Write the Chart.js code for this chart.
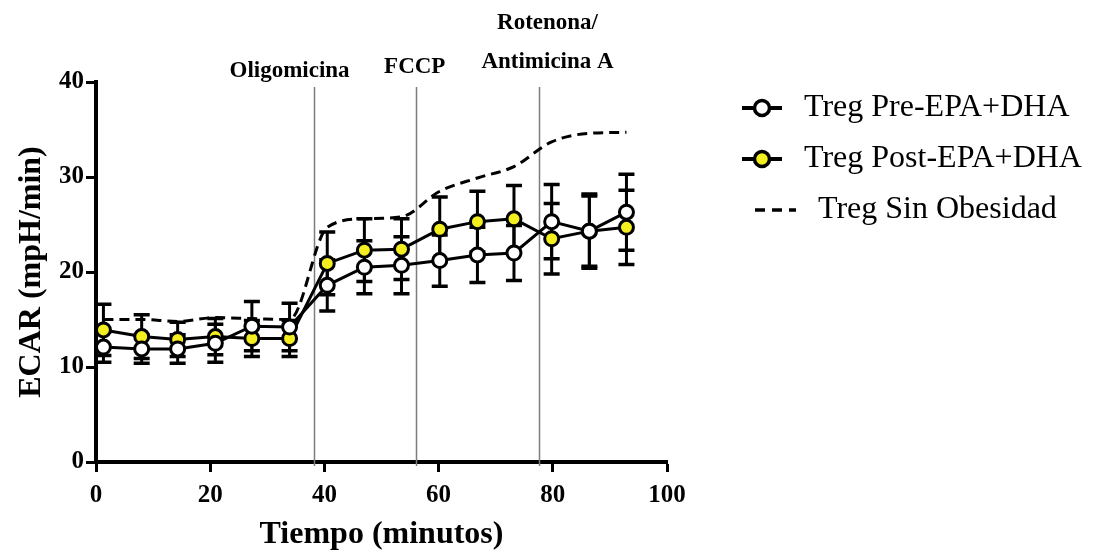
<!DOCTYPE html>
<html>
<head>
<meta charset="utf-8">
<script src="https://cdn.jsdelivr.net/npm/chart.js@4.4.1/dist/chart.umd.min.js"></script>
<style>
  html, body { margin: 0; padding: 0; background: #fff; }
</style>
</head>
<body>
<canvas id="Grafico" width="1094" height="555"></canvas>
<script>
// Datos (ECAR, mpH/min)
const tiempo = [1.3, 8.0, 14.3, 20.9, 27.3, 33.9, 40.5, 47.0, 53.5, 60.2, 66.8, 73.2, 79.8, 86.4, 92.9];
const pre = [12.1, 11.9, 11.9, 12.5, 14.3, 14.2, 18.6, 20.5, 20.7, 21.2, 21.8, 22.0, 25.3, 24.3, 26.3];
const preErr = [1.6, 1.5, 1.5, 2.0, 2.6, 2.5, 2.7, 2.8, 3.0, 2.7, 2.9, 2.9, 3.9, 3.9, 4.0];
const post = [13.9, 13.2, 12.9, 13.2, 13.0, 13.0, 20.9, 22.3, 22.4, 24.5, 25.3, 25.6, 23.5, 24.3, 24.7];
const postErr = [2.7, 2.3, 1.8, 1.9, 1.9, 1.9, 3.3, 3.3, 3.2, 3.4, 3.2, 3.5, 3.7, 3.7, 3.9];
const sinObesidad = [15.0, 15.0, 14.8, 15.2, 15.1, 15.0, 24.7, 25.6, 25.8, 28.5, 29.9, 31.1, 33.7, 34.6, 34.7];

const series = ['Treg Pre-EPA+DHA', 'Treg Post-EPA+DHA', 'Treg Sin Obesidad'];
const inyecciones = [38.1, 56.0, 77.5];
const inyeccionLabels = [['Oligomicina'], ['FCCP'], ['Rotenona/', 'Antimicina A']];
const xTicks = [0, 20, 40, 60, 80, 100];
const yTicks = [0, 10, 20, 30, 40];

const AMARILLO = '#f3ee1f';
const FUENTE = "'Liberation Serif', 'Times New Roman', serif";

function puntos(valores) {
  return valores.map((v, i) => ({ x: tiempo[i], y: v }));
}

// Barras de error (media +/- error) debajo de los puntos
const barrasError = {
  id: 'barrasError',
  beforeDatasetsDraw(chart) {
    const ctx = chart.ctx;
    const yScale = chart.scales.y;
    const errores = [preErr, postErr];
    ctx.save();
    ctx.strokeStyle = '#000';
    [0, 1].forEach(d => {
      const meta = chart.getDatasetMeta(d);
      const datos = chart.data.datasets[d].data;
      meta.data.forEach((p, i) => {
        const v = datos[i].y, e = errores[d][i];
        const yA = yScale.getPixelForValue(v + e);
        const yB = yScale.getPixelForValue(v - e);
        ctx.lineWidth = 3;
        ctx.beginPath();
        ctx.moveTo(p.x, yA);
        ctx.lineTo(p.x, yB);
        ctx.stroke();
        ctx.lineWidth = 3.5;
        ctx.beginPath();
        ctx.moveTo(p.x - 8, yA); ctx.lineTo(p.x + 8, yA);
        ctx.moveTo(p.x - 8, yB); ctx.lineTo(p.x + 8, yB);
        ctx.stroke();
      });
    });
    ctx.restore();
  }
};

// Lineas verticales de las inyecciones y sus nombres
const inyeccionesPlugin = {
  id: 'inyecciones',
  beforeDatasetsDraw(chart) {
    const ctx = chart.ctx;
    const xScale = chart.scales.x;
    ctx.save();
    ctx.strokeStyle = '#7d7d7d';
    ctx.lineWidth = 1.5;
    inyecciones.forEach(t => {
      const x = Math.round(xScale.getPixelForValue(t)) + 0.5;
      ctx.beginPath();
      ctx.moveTo(x, 87);
      ctx.lineTo(x, 466);
      ctx.stroke();
    });
    ctx.restore();
  },
  afterDraw(chart) {
    const ctx = chart.ctx;
    const xScale = chart.scales.x;
    const desplaz = [-24, -1, 9];
    ctx.save();
    ctx.fillStyle = '#000';
    ctx.font = 'bold 23px ' + FUENTE;
    ctx.textAlign = 'center';
    ctx.textBaseline = 'middle';
    inyeccionLabels.forEach((lineas, k) => {
      const x = xScale.getPixelForValue(inyecciones[k]) + desplaz[k];
      const yBase = lineas.length > 1 ? 62 : (k === 0 ? 71 : 67);
      lineas.slice().reverse().forEach((txt, j) => {
        ctx.fillText(txt, x, yBase - j * 39);
      });
    });
    ctx.restore();
  }
};

// Leyenda a la derecha
const leyenda = {
  id: 'leyenda',
  afterDraw(chart) {
    const ctx = chart.ctx;
    const filas = [108, 159, 210];
    ctx.save();
    ctx.strokeStyle = '#000';
    ctx.fillStyle = '#000';
    filas.forEach((y, k) => {
      if (k < 2) {
        ctx.lineWidth = 4;
        ctx.setLineDash([]);
        ctx.beginPath();
        ctx.moveTo(742, y); ctx.lineTo(782, y);
        ctx.stroke();
        ctx.beginPath();
        ctx.arc(762, y, 7.5, 0, Math.PI * 2);
        ctx.fillStyle = k === 0 ? '#fff' : AMARILLO;
        ctx.fill();
        ctx.lineWidth = 3.5;
        ctx.stroke();
      } else {
        ctx.lineWidth = 3.5;
        ctx.setLineDash([10, 7]);
        ctx.beginPath();
        ctx.moveTo(755, y); ctx.lineTo(796, y);
        ctx.stroke();
        ctx.setLineDash([]);
      }
      ctx.fillStyle = '#000';
      ctx.font = '32px ' + FUENTE;
      ctx.textAlign = 'left';
      ctx.textBaseline = 'middle';
      ctx.fillText(series[k], k < 2 ? 804 : 818, y);
    });
    ctx.restore();
  }
};

const contexto = document.getElementById('Grafico').getContext('2d');
const Grafico = new Chart(contexto, {
  type: 'line',
  data: {
    datasets: [{
      label: series[0],
      data: puntos(pre),
      borderColor: '#000',
      borderWidth: 3,
      pointBackgroundColor: '#fff',
      pointBorderColor: '#000',
      pointBorderWidth: 3,
      pointRadius: 7,
      tension: 0
    }, {
      label: series[1],
      data: puntos(post),
      borderColor: '#000',
      borderWidth: 3,
      pointBackgroundColor: AMARILLO,
      pointBorderColor: '#000',
      pointBorderWidth: 3,
      pointRadius: 7,
      tension: 0
    }, {
      label: series[2],
      data: puntos(sinObesidad),
      borderColor: '#000',
      borderWidth: 3,
      borderDash: [10, 6],
      pointRadius: 0,
      cubicInterpolationMode: 'monotone'
    }]
  },
  options: {
    responsive: false,
    animation: false,
    events: [],
    layout: { padding: { left: 0, top: 82, right: 427, bottom: 0 } },
    plugins: {
      legend: { display: false },
      tooltip: { enabled: false }
    },
    scales: {
      x: {
        type: 'linear',
        min: 0,
        max: 100,
        afterBuildTicks: s => { s.ticks = xTicks.map(v => ({ value: v })); },
        afterFit: s => { s.height = 93; },
        ticks: { color: '#000', padding: 9, font: { family: FUENTE, size: 25, weight: 'bold' } },
        grid: { drawOnChartArea: false, tickLength: 10, tickWidth: 3, color: '#000' },
        border: { display: true, width: 4, color: '#000' },
        title: {
          display: true,
          text: 'Tiempo (minutos)',
          color: '#000',
          padding: { top: 0, bottom: 1 },
          font: { family: FUENTE, size: 32, weight: 'bold' }
        }
      },
      y: {
        min: 0,
        max: 40,
        afterBuildTicks: s => { s.ticks = yTicks.map(v => ({ value: v })); },
        afterFit: s => { s.width = 96; },
        ticks: { color: '#000', padding: 2, font: { family: FUENTE, size: 25, weight: 'bold' } },
        grid: { drawOnChartArea: false, tickLength: 10, tickWidth: 3, color: '#000' },
        border: { display: true, width: 4, color: '#000' },
        title: {
          display: true,
          text: 'ECAR (mpH/min)',
          color: '#000',
          padding: { top: 13, bottom: 0 },
          font: { family: FUENTE, size: 32, weight: 'bold' }
        }
      }
    }
  },
  plugins: [inyeccionesPlugin, barrasError, leyenda]
});
</script>
</body>
</html>
